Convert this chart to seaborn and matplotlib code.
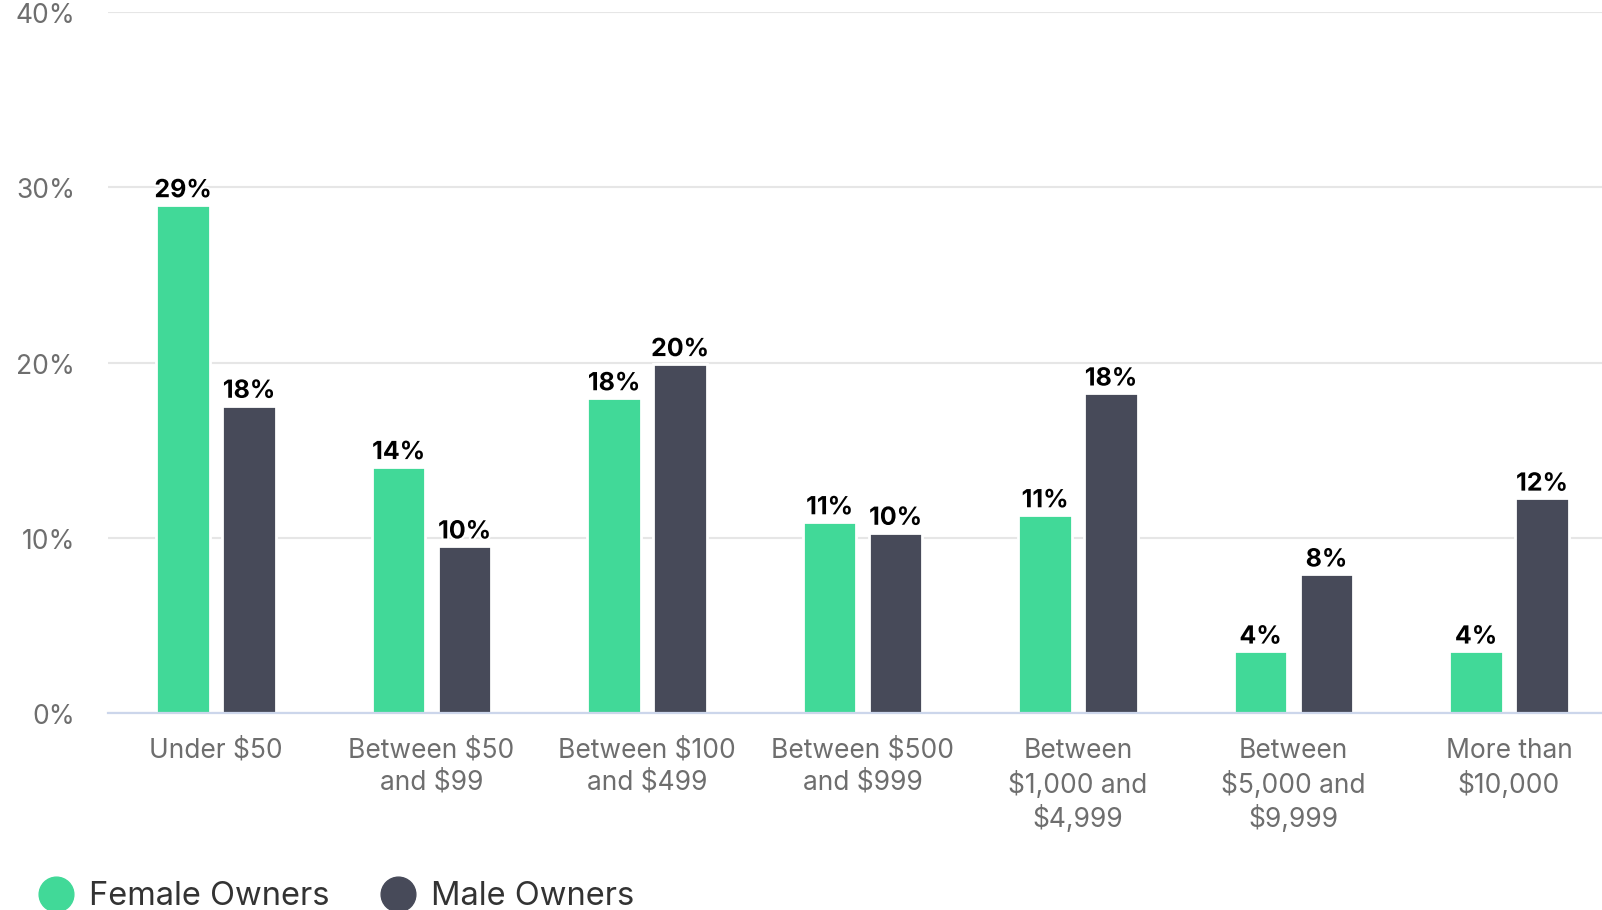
import matplotlib
matplotlib.use("Agg")
import matplotlib.pyplot as plt
import matplotlib.patheffects as pe
import matplotlib.transforms as mtransforms
from matplotlib.lines import Line2D
import pandas as pd
import seaborn as sns

# Share of owners by amount spent
categories = [
    "Under $50",
    "Between $50\nand $99",
    "Between $100\nand $499",
    "Between $500\nand $999",
    "Between\n$1,000 and\n$4,999",
    "Between\n$5,000 and\n$9,999",
    "More than\n$10,000",
]
female_owners = [29.0, 14.05, 17.98, 10.9, 11.3, 3.52, 3.52]
male_owners = [17.55, 9.52, 19.93, 10.3, 18.25, 7.92, 12.25]
series_names = ["Female Owners", "Male Owners"]
series_colors = ["#41d998", "#474a59"]
y_ticks = [0, 10, 20, 30, 40]

df = pd.DataFrame({
    "category": categories * 2,
    "share": female_owners + male_owners,
    "owner": [series_names[0]] * len(categories) + [series_names[1]] * len(categories),
})

sns.set_theme(style="white")
plt.rcParams["font.family"] = ["Inter", "DejaVu Sans"]

fig = plt.figure(figsize=(16.02, 9.10), dpi=100)
ax = fig.add_axes([0.0676, 0.2165, 0.9416, 0.770])

sns.barplot(
    data=df, x="category", y="share", hue="owner",
    order=categories, hue_order=series_names,
    palette=series_colors, width=0.612, gap=0.19,
    edgecolor="white", linewidth=2, saturation=1,
    legend=False, ax=ax, zorder=3,
)

ax.set_ylim(0, 40)
ax.set_yticks(y_ticks)
ax.set_yticklabels([f"{t}%" for t in y_ticks])
ax.yaxis.grid(True, color="#e6e6e6", linewidth=1.5, zorder=0)
ax.set_axisbelow(True)
ax.set_xlabel("")
ax.set_ylabel("")
for side in ["top", "right", "left"]:
    ax.spines[side].set_visible(False)
ax.spines["bottom"].set_color("#ccd6eb")
ax.spines["bottom"].set_linewidth(1.6)
ax.spines["bottom"].set_zorder(4)

ax.tick_params(axis="y", length=0, pad=24, labelsize=19, labelcolor="#6e6e6e")
ax.tick_params(axis="x", length=0, pad=18, labelsize=19, labelcolor="#6e6e6e")
# y labels sit slightly below their grid lines
shift_down = mtransforms.ScaledTranslation(0, -4 / 100, fig.dpi_scale_trans)
for lab in ax.get_yticklabels():
    lab.set_verticalalignment("center")
    lab.set_transform(lab.get_transform() + shift_down)
for lab in ax.get_xticklabels():
    lab.set_linespacing(1.3)
    lab.set_verticalalignment("top")

for container in ax.containers:
    labels = [f"{bar.get_height():.0f}%" for bar in container]
    texts = ax.bar_label(container, labels=labels, padding=2,
                         fontsize=18, fontweight="bold", color="#000000")
    for t in texts:
        t.set_path_effects([pe.withStroke(linewidth=3, foreground="white")])
        t.set_zorder(5)

handles = [
    Line2D([], [], marker="o", linestyle="", markersize=25,
           markerfacecolor=c, markeredgecolor=c)
    for c in series_colors
]
fig.legend(
    handles, series_names, loc="center left",
    bbox_to_anchor=(0.025, 0.0145), ncol=2, frameon=False,
    fontsize=23.5, labelcolor="#333333", handlelength=1.0,
    handletextpad=0.5, columnspacing=1.6, borderpad=0, borderaxespad=0,
)

fig.savefig("out.png", dpi=100)
